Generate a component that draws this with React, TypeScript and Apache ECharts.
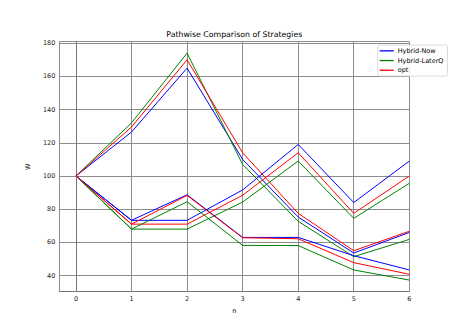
import React, { useEffect, useRef } from "react";
import * as echarts from "echarts";

const steps = [0, 1, 2, 3, 4, 5, 6];
const seriesNames = ["Hybrid-Now", "Hybrid-LaterQ", "opt"];
const seriesColors = ["#0000ff", "#008000", "#ff0000"];

// three sample paths per strategy
const hybridNowPaths = [
  [100, 126.5, 165, 110, 75.3, 53.6, 66],
  [100, 73.3, 73.3, 91.6, 119, 84, 109],
  [100, 73.3, 88.7, 63, 63, 52, 43.4],
];
const hybridLaterQPaths = [
  [100, 132, 174, 107, 72.7, 51.4, 61.8],
  [100, 68, 68, 84.3, 109, 74.5, 95.6],
  [100, 68, 84.5, 58.2, 58.1, 43.4, 37.3],
];
const optPaths = [
  [100, 129.5, 170, 114, 77.5, 55, 66.7],
  [100, 71, 71, 88.4, 114, 77.5, 100],
  [100, 71, 88.3, 62.8, 62.2, 47.8, 40.8],
];

const FONT = "DejaVu Sans";

export default function App() {
  const ref = useRef<HTMLDivElement>(null);
  useEffect(() => {
    if (!ref.current) return;
    const chart = echarts.init(ref.current, null, { renderer: "svg" });
    const allPaths = [hybridNowPaths, hybridLaterQPaths, optPaths];
    const series: any[] = [];
    for (let p = 0; p < 3; p++) {
      for (let s = 0; s < 3; s++) {
        series.push({
          type: "line",
          name: seriesNames[s],
          data: steps.map((x, i) => [x, allPaths[s][p][i]]),
          symbol: "none",
          lineStyle: { color: seriesColors[s], width: 1 },
          itemStyle: { color: seriesColors[s] },
          z: 3,
        });
      }
    }
    chart.setOption({
      animation: false,
      backgroundColor: "#fff",
      textStyle: { fontFamily: FONT },
      title: {
        text: "Pathwise Comparison of Strategies",
        left: 234.3,
        top: 30.5,
        textAlign: "center",
        padding: 0,
        textStyle: { fontSize: 7.8, fontWeight: "normal", color: "#000", fontFamily: FONT },
      },
      legend: {
        data: seriesNames.map((n) => ({ name: n, icon: "rect" })),
        orient: "vertical",
        left: 377.7,
        top: 45,
        padding: [2, 4, 2, 2],
        itemWidth: 14,
        itemHeight: 1.3,
        itemGap: 2,
        backgroundColor: "rgba(255,255,255,0.85)",
        borderColor: "#d0d0d0",
        borderWidth: 0.8,
        borderRadius: 2,
        textStyle: { fontSize: 6.5, color: "#000", fontFamily: FONT, padding: [0, 0, 0, -1], lineHeight: 7.7 },
      },
      grid: { left: 59.3, top: 41.7, width: 350, height: 250 },
      xAxis: {
        type: "value",
        min: -0.3,
        max: 6,
        minInterval: 1,
        maxInterval: 1,
        name: "n",
        nameLocation: "middle",
        nameGap: 12,
        nameTextStyle: { fontSize: 6.5, color: "#000", fontFamily: FONT },
        axisLine: { show: true, lineStyle: { color: "#777", width: 1 } },
        axisTick: { show: false },
        axisLabel: {
          fontSize: 6.5,
          color: "#222",
          margin: 4,
          formatter: (v: number) => (Number.isInteger(v) ? String(v) : ""),
        },
        splitLine: { show: true, lineStyle: { color: "#8c8c8c", width: 1 } },
      },
      yAxis: {
        type: "value",
        min: 30.3,
        max: 180.9,
        minInterval: 20,
        maxInterval: 20,
        name: "W",
        nameLocation: "middle",
        nameGap: 20,
        nameTextStyle: { fontSize: 6.5, color: "#000", fontFamily: FONT },
        axisLine: { show: true, lineStyle: { color: "#777", width: 1 } },
        axisTick: { show: false },
        axisLabel: {
          fontSize: 6.5,
          color: "#222",
          margin: 4,
          formatter: (v: number) => (Math.abs(v % 20) < 1e-6 ? String(v) : ""),
        },
        splitLine: { show: true, lineStyle: { color: "#8c8c8c", width: 1 } },
      },
      series,
    });
    return () => chart.dispose();
  }, []);
  return (
    <div
      ref={ref}
      style={{ position: "absolute", left: 0, top: 0, width: 474, height: 335 }}
    />
  );
}
